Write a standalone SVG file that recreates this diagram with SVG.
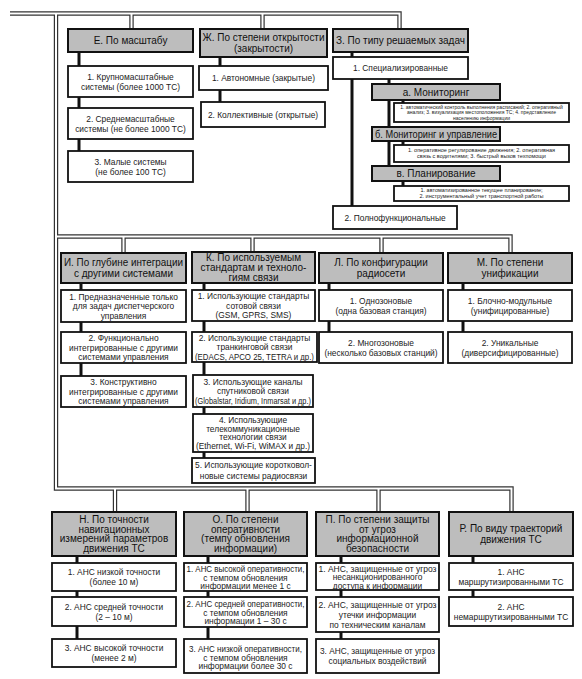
<svg xmlns="http://www.w3.org/2000/svg" xmlns:xlink="http://www.w3.org/1999/xlink" width="582" height="679" viewBox="0 0 582 679">
<style>
text{font-family:"Liberation Sans",Arial,sans-serif;text-anchor:middle}
.h{fill:#bdbdbd;stroke:#111;stroke-width:2}
.b{fill:#fff;stroke:#111;stroke-width:1.8}
.ht{font-size:10px;fill:#111}
.t{font-size:8.4px;fill:#222}
.s{font-size:5px;fill:#222}
.s2{font-size:5.5px;fill:#222}
.po{fill:none;stroke:#333;stroke-width:4.4}
.pi{fill:none;stroke:#fff;stroke-width:2}
.c{fill:none;stroke:#111;stroke-width:3}
</style>
<defs>
<path id="p1" d="M10,13.5 H399.5 V29"/>
<path id="p2" d="M56,13.5 V488.5 H511.5 V512"/>
<path id="p3" d="M131.5,13.5 V29"/>
<path id="p4" d="M262.5,13.5 V29"/>
<path id="p5" d="M56,236.5 H510.5 V253"/>
<path id="p6" d="M123.5,236.5 V253"/>
<path id="p7" d="M252.5,236.5 V252"/>
<path id="p8" d="M381.5,236.5 V253"/>
<path id="p9" d="M115,488.5 V512"/>
<path id="p10" d="M247.5,488.5 V512"/>
<path id="p11" d="M378.5,488.5 V512"/>
</defs>
<rect width="582" height="679" fill="#fff"/>
<g id="connectors">
<g class="po">
<use href="#p1"/><use href="#p2"/><use href="#p3"/><use href="#p4"/><use href="#p5"/><use href="#p6"/><use href="#p7"/><use href="#p8"/><use href="#p9"/><use href="#p10"/><use href="#p11"/>
</g>
<g class="pi">
<use href="#p1"/><use href="#p2"/><use href="#p3"/><use href="#p4"/><use href="#p5"/><use href="#p6"/><use href="#p7"/><use href="#p8"/><use href="#p9"/><use href="#p10"/><use href="#p11"/>
</g>
<g class="c">
<path d="M79,52 V151"/>
<path d="M220,57 V102"/>
<path d="M352,52 V206"/>
<path d="M389,79 V166"/>
<path d="M403,100 V103 M403,141 V145 M403,181 V186"/>
<path d="M81,283 V376"/>
<path d="M204,283 V458"/>
<path d="M329,283 V332"/>
<path d="M463,283 V332"/>
<path d="M77,556 V639"/>
<path d="M208,556 V639"/>
<path d="M341,556 V639"/>
<path d="M473,556 V597"/>
</g>
</g>

<g id="e-head"><rect class="h" x="68" y="29" width="125" height="23"/><text class="ht" x="130.5" y="44">Е. По масштабу</text></g>
<g id="e-1"><rect class="b" x="68" y="66" width="125" height="31"/><text class="t" x="130.5" y="79.5">1. Крупномасштабные</text><text class="t" x="130.5" y="89.5">системы (более 1000 ТС)</text></g>
<g id="e-2"><rect class="b" x="68" y="108" width="125" height="31"/><text class="t" x="130.5" y="121.5">2. Среднемасштабные</text><text class="t" x="130.5" y="131.5">системы (не более 1000 ТС)</text></g>
<g id="e-3"><rect class="b" x="68" y="151" width="125" height="31"/><text class="t" x="130.5" y="164.5">3. Малые системы</text><text class="t" x="130.5" y="174.5">(не более 100 ТС)</text></g>

<g id="zh-head"><rect class="h" x="200" y="29" width="127" height="28"/><text class="ht" x="263.5" y="41" textLength="122" lengthAdjust="spacingAndGlyphs">Ж. По степени открытости</text><text class="ht" x="263.5" y="52">(закрытости)</text></g>
<g id="zh-1"><rect class="b" x="199" y="66" width="129" height="24"/><text class="t" x="263.5" y="81">1. Автономные (закрытые)</text></g>
<g id="zh-2"><rect class="b" x="201" y="102" width="124" height="25"/><text class="t" x="263" y="117.5">2. Коллективные (открытые)</text></g>

<g id="z-head"><rect class="h" x="333" y="29" width="135" height="23"/><text class="ht" x="400.5" y="44" textLength="129" lengthAdjust="spacingAndGlyphs">З. По типу решаемых задач</text></g>
<g id="z-1"><rect class="b" x="333" y="57" width="135" height="22"/><text class="t" x="400.5" y="71">1. Специализированные</text></g>
<g id="z-a"><rect class="h" x="372" y="84" width="128" height="16"/><text class="ht" x="436" y="95.5">а. Мониторинг</text></g>
<g id="z-a-d"><rect class="b" x="394" y="103" width="175" height="19"/><text class="s" x="481.5" y="108.8">1. автоматический контроль выполнения расписаний; 2. оперативный</text><text class="s" x="481.5" y="114.3">анализ; 3. визуализация местоположения ТС; 4. представление</text><text class="s" x="481.5" y="119.8">населению информации</text></g>
<g id="z-b"><rect class="h" x="372" y="127" width="128" height="14"/><text class="ht" x="436" y="137.5" textLength="122" lengthAdjust="spacingAndGlyphs">б. Мониторинг и управление</text></g>
<g id="z-b-d"><rect class="b" x="394" y="145" width="175" height="17"/><text class="s2" x="481.5" y="152.4">1. оперативное регулирование движения; 2. оперативная</text><text class="s2" x="481.5" y="158.4">связь с водителями; 3. быстрый вызов техпомощи</text></g>
<g id="z-v"><rect class="h" x="372" y="166" width="128" height="15"/><text class="ht" x="436" y="177">в. Планирование</text></g>
<g id="z-v-d"><rect class="b" x="394" y="186" width="175" height="15"/><text class="s2" x="481.5" y="192.4">1. автоматизированное текущее планирование;</text><text class="s2" x="481.5" y="198.4">2. инструментальный учет транспортной работы</text></g>
<g id="z-2"><rect class="b" x="333" y="206" width="124" height="23"/><text class="t" x="395" y="220.5">2. Полнофункциональные</text></g>

<g id="i-head"><rect class="h" x="61" y="253" width="125" height="30"/><text class="ht" x="123.5" y="266" textLength="119" lengthAdjust="spacingAndGlyphs">И. По глубине интеграции</text><text class="ht" x="123.5" y="277">с другими системами</text></g>
<g id="i-1"><rect class="b" x="61" y="290" width="125" height="32"/><text class="t" x="123.5" y="299.5">1. Предназначенные только</text><text class="t" x="123.5" y="309">для задач диспетчерского</text><text class="t" x="123.5" y="318.5">управления</text></g>
<g id="i-2"><rect class="b" x="61" y="332" width="125" height="31"/><text class="t" x="123.5" y="341">2. Функционально</text><text class="t" x="123.5" y="350.5">интегрированные с другими</text><text class="t" x="123.5" y="360">системами управления</text></g>
<g id="i-3"><rect class="b" x="61" y="376" width="125" height="31"/><text class="t" x="123.5" y="385">3. Конструктивно</text><text class="t" x="123.5" y="394.5">интегрированные с другими</text><text class="t" x="123.5" y="404">системами управления</text></g>

<g id="k-head"><rect class="h" x="192" y="252" width="123" height="31"/><text class="ht" x="253.5" y="260.5">К. По используемым</text><text class="ht" x="253.5" y="270.5">стандартам и техноло-</text><text class="ht" x="253.5" y="280.5">гиям связи</text></g>
<g id="k-1"><rect class="b" x="192" y="290" width="123" height="31"/><text class="t" x="253.5" y="299">1. Использующие стандарты</text><text class="t" x="253.5" y="308.5">сотовой связи</text><text class="t" x="253.5" y="318">(GSM, GPRS, SMS)</text></g>
<g id="k-2"><rect class="b" x="192" y="332" width="125" height="30"/><text class="t" x="254.5" y="340.5">2. Использующие стандарты</text><text class="t" x="254.5" y="350">транкинговой связи</text><text class="t" x="254.5" y="359.5" textLength="119" lengthAdjust="spacingAndGlyphs">(EDACS, APCO 25, TETRA и др.)</text></g>
<g id="k-3"><rect class="b" x="193" y="375" width="120" height="32"/><text class="t" x="253" y="384.5">3. Использующие  каналы</text><text class="t" x="253" y="394">спутниковой связи</text><text class="t" x="253" y="403.5" textLength="116" lengthAdjust="spacingAndGlyphs">(Globalstar, Iridium, Inmarsat и др.)</text></g>
<g id="k-4"><rect class="b" x="193" y="414" width="120" height="38"/><text class="t" x="253" y="423">4. Использующие</text><text class="t" x="253" y="431.5">телекоммуникационные</text><text class="t" x="253" y="440">технологии связи</text><text class="t" x="253" y="448.5" textLength="114" lengthAdjust="spacingAndGlyphs">(Ethernet, Wi-Fi, WiMAX и др.)</text></g>
<g id="k-5"><rect class="b" x="192" y="458" width="123" height="25"/><text class="t" x="253.5" y="468">5. Использующие коротковол-</text><text class="t" x="253.5" y="478.5">новые системы радиосвязи</text></g>

<g id="l-head"><rect class="h" x="319" y="253" width="124" height="30"/><text class="ht" x="381" y="266">Л. По конфигурации</text><text class="ht" x="381" y="277">радиосети</text></g>
<g id="l-1"><rect class="b" x="319" y="290" width="124" height="31"/><text class="t" x="381" y="303.5">1. Однозоновые</text><text class="t" x="381" y="313.5">(одна базовая станция)</text></g>
<g id="l-2"><rect class="b" x="319" y="332" width="124" height="31"/><text class="t" x="381" y="345.5">2. Многозоновые</text><text class="t" x="381" y="355.5">(несколько базовых станций)</text></g>

<g id="m-head"><rect class="h" x="448" y="253" width="124" height="30"/><text class="ht" x="510" y="266">М. По степени</text><text class="ht" x="510" y="277">унификации</text></g>
<g id="m-1"><rect class="b" x="448" y="290" width="124" height="31"/><text class="t" x="510" y="303.5">1. Блочно-модульные</text><text class="t" x="510" y="313.5">(унифицированные)</text></g>
<g id="m-2"><rect class="b" x="448" y="332" width="124" height="31"/><text class="t" x="510" y="345.5">2. Уникальные</text><text class="t" x="510" y="355.5">(диверсифицированные)</text></g>

<g id="n-head"><rect class="h" x="52" y="512" width="124" height="44"/><text class="ht" x="114" y="523.3">Н. По точности</text><text class="ht" x="114" y="532.8">навигационных</text><text class="ht" x="114" y="542.3">измерений параметров</text><text class="ht" x="114" y="551.8">движения ТС</text></g>
<g id="n-1"><rect class="b" x="52" y="563" width="124" height="28"/><text class="t" x="114" y="575">1. АНС низкой точности</text><text class="t" x="114" y="585">(более 10 м)</text></g>
<g id="n-2"><rect class="b" x="52" y="597" width="124" height="29"/><text class="t" x="114" y="609.5">2. АНС средней точности</text><text class="t" x="114" y="619.5">(2 – 10 м)</text></g>
<g id="n-3"><rect class="b" x="52" y="639" width="124" height="28"/><text class="t" x="114" y="651">3. АНС высокой точности</text><text class="t" x="114" y="661">(менее 2 м)</text></g>

<g id="o-head"><rect class="h" x="184" y="512" width="123" height="44"/><text class="ht" x="245.5" y="523.3">О. По степени</text><text class="ht" x="245.5" y="532.8">оперативности</text><text class="ht" x="245.5" y="542.3">(темпу обновления</text><text class="ht" x="245.5" y="551.8">информации)</text></g>
<g id="o-1"><rect class="b" x="184" y="563" width="123" height="28"/><text class="t" x="245.5" y="572" textLength="118" lengthAdjust="spacingAndGlyphs">1. АНС высокой оперативности,</text><text class="t" x="245.5" y="580.5">с темпом обновления</text><text class="t" x="245.5" y="589">информации менее 1 с</text></g>
<g id="o-2"><rect class="b" x="184" y="597" width="123" height="30"/><text class="t" x="245.5" y="607" textLength="118" lengthAdjust="spacingAndGlyphs">2. АНС средней оперативности,</text><text class="t" x="245.5" y="615.5">с темпом обновления</text><text class="t" x="245.5" y="624">информации 1 – 30 с</text></g>
<g id="o-3"><rect class="b" x="184" y="639" width="123" height="34"/><text class="t" x="245.5" y="652" textLength="113" lengthAdjust="spacingAndGlyphs">3. АНС низкой оперативности,</text><text class="t" x="245.5" y="660.5">с темпом обновления</text><text class="t" x="245.5" y="669">информации более 30 с</text></g>

<g id="p-head"><rect class="h" x="316" y="512" width="123" height="44"/><text class="ht" x="377.5" y="523.3">П. По степени защиты</text><text class="ht" x="377.5" y="532.8">от угроз</text><text class="ht" x="377.5" y="542.3">информационной</text><text class="ht" x="377.5" y="551.8">безопасности</text></g>
<g id="p-1"><rect class="b" x="316" y="563" width="123" height="27"/><text class="t" x="377.5" y="571.5" textLength="118" lengthAdjust="spacingAndGlyphs">1. АНС, защищенные от угроз</text><text class="t" x="377.5" y="580">несанкционированного</text><text class="t" x="377.5" y="588.5">доступа к информации</text></g>
<g id="p-2"><rect class="b" x="316" y="597" width="123" height="35"/><text class="t" x="377.5" y="607.5" textLength="118" lengthAdjust="spacingAndGlyphs">2. АНС, защищенные от угроз</text><text class="t" x="377.5" y="617.5">утечки информации</text><text class="t" x="377.5" y="627.5">по техническим каналам</text></g>
<g id="p-3"><rect class="b" x="316" y="639" width="123" height="34"/><text class="t" x="377.5" y="654" textLength="115" lengthAdjust="spacingAndGlyphs">3. АНС, защищенные от угроз</text><text class="t" x="377.5" y="664">социальных воздействий</text></g>

<g id="r-head"><rect class="h" x="449" y="512" width="124" height="44"/><text class="ht" x="511" y="532">Р. По виду траекторий</text><text class="ht" x="511" y="543">движения ТС</text></g>
<g id="r-1"><rect class="b" x="449" y="563" width="124" height="27"/><text class="t" x="511" y="574.5">1. АНС</text><text class="t" x="511" y="584.5">маршрутизированными ТС</text></g>
<g id="r-2"><rect class="b" x="449" y="597" width="124" height="29"/><text class="t" x="511" y="609.5">2. АНС</text><text class="t" x="511" y="619.5">немаршрутизированными ТС</text></g>
</svg>
